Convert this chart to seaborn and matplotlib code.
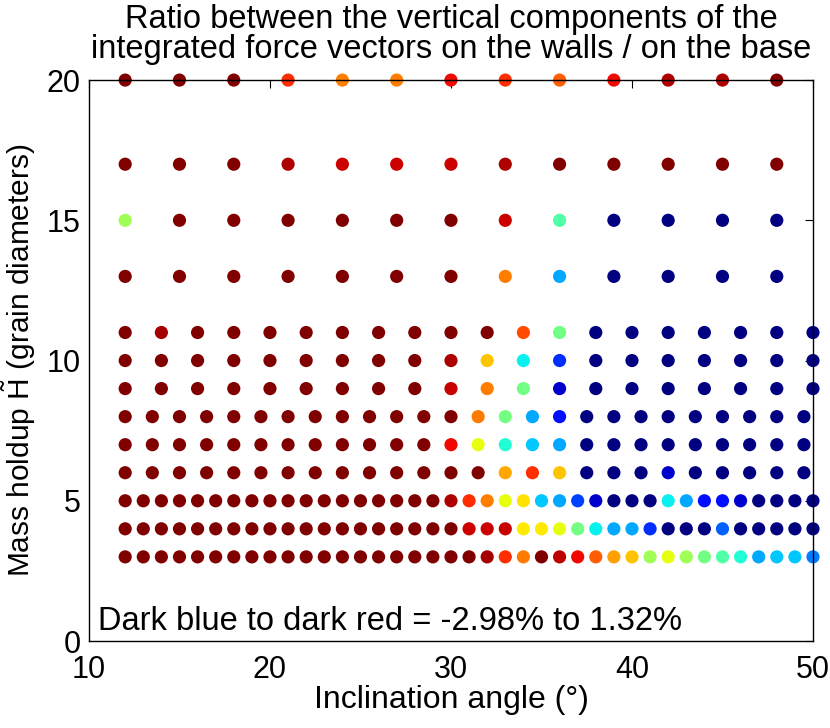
import numpy as np
import pandas as pd
import seaborn as sns
import matplotlib
from matplotlib import pyplot as plt

sns.set_style("white")
plt.rcParams['font.family'] = ['Liberation Sans', 'DejaVu Sans']
plt.rcParams['mathtext.fontset'] = 'custom'
plt.rcParams['mathtext.rm'] = 'Liberation Sans'
for key in ['text.color', 'axes.labelcolor', 'xtick.color', 'ytick.color']:
    plt.rcParams[key] = 'black'

# inclination angles (deg) for each family of runs
angles_step1 = [12, 13, 14, 15, 16, 17, 18, 19, 20, 21, 22, 23, 24, 25, 26, 27, 28, 29, 30,
                31, 32, 33, 34, 35, 36, 37, 38, 39, 40, 41, 42, 43, 44, 45, 46, 47, 48, 49, 50]
angles_step15 = [12, 13.5, 15, 16.5, 18, 19.5, 21, 22.5, 24, 25.5, 27, 28.5, 30,
                 31.5, 33, 34.5, 36, 37.5, 39, 40.5, 42, 43.5, 45, 46.5, 48, 49.5]
angles_step2 = [12, 14, 16, 18, 20, 22, 24, 26, 28, 30, 32, 34, 36, 38, 40, 42, 44, 46, 48, 50]
angles_step3 = [12, 15, 18, 21, 24, 27, 30, 33, 36, 39, 42, 45, 48]

# ratio (%) walls / base
ratio_h3 = [1.32] * 19 + [1.32, 1.17, 0.72, 0.37, 1.32, 1.08, 0.89, 0.50, 0.20, 0.03,
                          -0.64, -0.27, -0.64, -0.87, -1.05, -1.30, -1.73, -1.60, -1.60, -1.91]
ratio_h4 = [1.32] * 19 + [1.02, 1.02, 1.05, -0.14, -0.14, -0.27, -0.87, -1.43, -1.73, -1.73,
                          -2.25, -2.98, -2.98, -2.98, -2.03, -2.98, -2.98, -2.98, -2.98, -2.98]
ratio_h5 = [1.32] * 18 + [1.14, 0.72, 0.35, -0.27, -0.10, -1.60, -1.73, -2.16, -2.68, -2.98,
                          -2.98, -2.98, -1.43, -1.73, -2.38, -2.38, -2.68, -2.98, -2.98, -2.98, -2.98]
ratio_h6 = [1.32] * 12 + [1.32, 1.32, 0.17, 0.72, 0.03, -2.98, -2.98, -2.98, -2.68,
                          -2.98, -2.98, -2.98, -2.98, -2.98]
ratio_h7 = [1.32] * 12 + [0.89, -0.27, -1.30, -1.60, -1.73] + [-2.98] * 9
ratio_h8 = [1.32] * 12 + [1.32, 0.37, -0.87, -1.73, -2.38] + [-2.98] * 9
ratio_h9 = [1.32] * 9 + [1.04, 0.35, -0.87, -2.68] + [-2.98] * 7
ratio_h10 = [1.32] * 9 + [1.14, 0.03, -1.43, -2.25] + [-2.98] * 7
ratio_h11 = [1.32, 1.17] + [1.32] * 7 + [1.32, 1.32, 0.59, -0.87] + [-2.98] * 7
ratio_h13 = [1.32] * 7 + [0.35, -1.73] + [-2.98] * 4
ratio_h15 = [-0.64] + [1.32] * 6 + [1.02, -1.05] + [-2.98] * 4
ratio_h17 = [1.32, 1.32, 1.32, 1.14, 1.02, 1.02, 1.02, 1.14, 1.32, 1.32, 1.32, 1.32, 1.32]
ratio_h20 = [1.32, 1.32, 1.32, 0.72, 0.35, 0.35, 0.89, 0.72, 0.50, 0.89, 1.14, 1.14, 1.32]

rows = [
    (3, angles_step1, ratio_h3), (4, angles_step1, ratio_h4), (5, angles_step1, ratio_h5),
    (6, angles_step15, ratio_h6), (7, angles_step15, ratio_h7), (8, angles_step15, ratio_h8),
    (9, angles_step2, ratio_h9), (10, angles_step2, ratio_h10), (11, angles_step2, ratio_h11),
    (13, angles_step3, ratio_h13), (15, angles_step3, ratio_h15),
    (17, angles_step3, ratio_h17), (20, angles_step3, ratio_h20),
]
df = pd.concat([pd.DataFrame({'angle': a, 'holdup': h, 'ratio': r}) for h, a, r in rows],
               ignore_index=True)

vmin, vmax = -2.98, 1.32


def main():
    fig = plt.figure(figsize=(8.3, 7.28), dpi=100)
    ax = fig.add_axes([0.1072, 0.1195, 0.8723, 0.7705])
    sns.scatterplot(ax=ax, data=df, x='angle', y='holdup', hue='ratio',
                    palette=matplotlib.colormaps['jet'],
                    hue_norm=(vmin, vmax), s=90, linewidth=0, legend=False,
                    clip_on=False, zorder=2)
    ax.set_xlim(10, 50)
    ax.set_ylim(0, 20)
    ax.set_xticks([10, 20, 30, 40, 50])
    ax.set_yticks([0, 5, 10, 15, 20])
    ax.tick_params(direction='in', top=True, right=True, length=6, width=0.8,
                   labelsize=22, pad=6)
    ax.tick_params(axis='x', pad=10)
    for sp in ax.spines.values():
        sp.set_color('black')
        sp.set_linewidth(1.0)
        sp.set_zorder(3)
    ax.set_xlabel('Inclination angle (°)', fontsize=23, labelpad=0)
    ax.set_ylabel(r'Mass holdup $\tilde{\mathrm{H}}$ (grain diameters)', fontsize=21.5,
                  labelpad=6)
    ax.set_title('Ratio between the vertical components of the\n'
                 'integrated force vectors on the walls / on the base',
                 fontsize=23.5, linespacing=0.95, pad=16)
    ax.text(10.5, 0.4, 'Dark blue to dark red = -2.98% to 1.32%', fontsize=23.5,
            va='baseline', ha='left')
    plt.savefig('out.png', dpi=100)


if __name__ == "__main__":
    main()
